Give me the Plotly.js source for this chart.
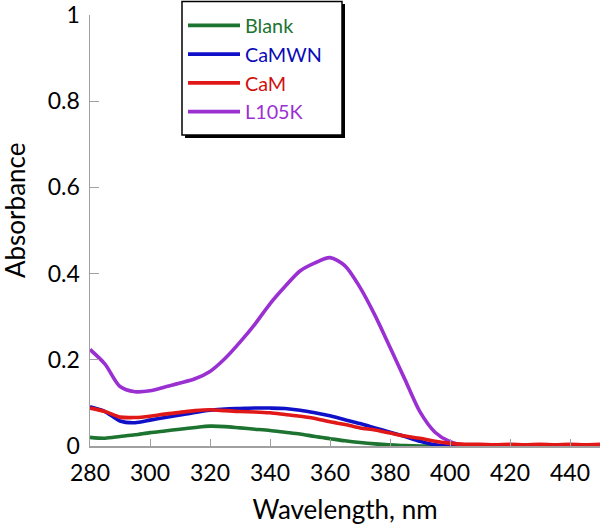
<!DOCTYPE html>
<html>
<head>
<meta charset="utf-8">
<script src="https://cdn.plot.ly/plotly-3.0.1.min.js"></script>
<style>html,body{margin:0;padding:0;background:#fff;}#chart{width:602px;height:525px;}</style>
</head>
<body>
<div id="chart"></div>
<script>
const wavelength = [280,285,290,295,300,305,310,315,320,325,330,335,340,345,350,355,360,365,370,375,380,385,390,395,400,405,410,415,420,425,430,435,440,445,450];
const blank = [0.020,0.018,0.022,0.026,0.031,0.035,0.039,0.043,0.046,0.045,0.042,0.039,0.036,0.032,0.028,0.022,0.017,0.012,0.008,0.005,0.003,0.001,0.000,0.000,0.000,0.000,0.000,0.000,0.000,0.000,0.000,0.000,0.000,0.000,0.000];
const camwn = [0.091,0.080,0.058,0.054,0.060,0.066,0.072,0.078,0.083,0.086,0.087,0.088,0.088,0.087,0.083,0.077,0.070,0.061,0.052,0.042,0.032,0.022,0.011,0.003,0.000,-0.001,-0.001,-0.001,-0.001,-0.001,-0.001,-0.001,-0.001,-0.001,-0.001];
const cam = [0.088,0.080,0.067,0.066,0.069,0.074,0.078,0.082,0.084,0.082,0.080,0.079,0.077,0.073,0.069,0.064,0.056,0.050,0.042,0.037,0.030,0.023,0.018,0.011,0.006,0.004,0.004,0.003,0.004,0.003,0.004,0.003,0.004,0.003,0.004];
const l105k = [0.224,0.190,0.138,0.126,0.128,0.137,0.146,0.156,0.173,0.203,0.241,0.283,0.330,0.370,0.406,0.425,0.437,0.418,0.368,0.303,0.229,0.154,0.079,0.032,0.010,0.002,0.001,0.001,0.001,0.001,0.001,0.001,0.001,0.001,0.001];
const seriesNames = ['Blank','CaMWN','CaM','L105K'];
const seriesColors = ['#1c7430','#1010c8','#e01818','#9b30d2'];
const textColors = ['#1c7430','#0a0ab8','#d01010','#9b30d2'];
const xTicks = [280,300,320,340,360,380,400,420,440];
const yTicks = [0,0.2,0.4,0.6,0.8,1];
const yTickText = ['0','0.2','0.4','0.6','0.8','1'];

const TOP = 15, BOTTOM = 446;
function px2paperX(px){return (px-90)/510;}
function px2paperY(py){return (BOTTOM-py)/(BOTTOM-TOP);}

const ys = [blank, camwn, cam, l105k];
const drawOrder = [0,1,3,2];
const traces = drawOrder.map(i => ({
  x: wavelength, y: ys[i], type:'scatter', mode:'lines',
  name: '<span style="color:'+textColors[i]+'">'+seriesNames[i]+'</span>',
  legendrank: i+1,
  line:{color:seriesColors[i], width:3.6, shape:'spline', smoothing:0.8}
}));

const layout = {
  width:602, height:525,
  margin:{l:90, r:2, t:TOP, b:525-BOTTOM},
  paper_bgcolor:'#fff', plot_bgcolor:'#fff',
  font:{family:'Lato, sans-serif', size:22, color:'#000'},
  showlegend:true,
  legend:{x:px2paperX(183), y:px2paperY(6), xanchor:'left', yanchor:'top',
    bgcolor:'rgba(0,0,0,0)', borderwidth:0,
    font:{family:'Lato, sans-serif', size:19.8}, traceorder:'normal',
    itemwidth:52},
  xaxis:{range:[280,450], tickvals:xTicks,
    ticks:'inside', ticklen:7, tickcolor:'#a0a0a0', tickwidth:1,
    showline:true, linecolor:'#a0a0a0', linewidth:1.5, showgrid:false, zeroline:false,
    ticklabelstandoff:6, ticklabeloverflow:'allow',
    tickfont:{family:'Lato, sans-serif', size:23},
    title:{text:'Wavelength, nm', font:{family:'Lato, sans-serif', size:26}, standoff:16}},
  yaxis:{range:[0,1], tickvals:yTicks, ticktext:yTickText,
    ticks:'inside', ticklen:9, tickcolor:'#a0a0a0', tickwidth:1,
    showline:true, linecolor:'#a0a0a0', linewidth:1.5, showgrid:false, zeroline:false,
    ticklabelstandoff:4, ticklabeloverflow:'allow',
    tickfont:{family:'Lato, sans-serif', size:23}},
  annotations:[{text:'Absorbance', xref:'paper', yref:'paper', x:px2paperX(15), y:px2paperY(211),
    showarrow:false, textangle:-90, font:{family:'Lato, sans-serif', size:26}, xanchor:'center', yanchor:'middle'}],
  shapes:[
    {type:'rect', xref:'paper', yref:'paper', x0:px2paperX(185), x1:px2paperX(345), y0:px2paperY(138), y1:px2paperY(4),
     fillcolor:'#000', line:{width:0}, layer:'above'},
    {type:'rect', xref:'paper', yref:'paper', x0:px2paperX(182), x1:px2paperX(342), y0:px2paperY(135), y1:px2paperY(1.5),
     fillcolor:'#fff', line:{width:1.5, color:'#000'}, layer:'above'}
  ]
};
Plotly.newPlot('chart', traces, layout, {displayModeBar:false, staticPlot:true});
</script>
</body>
</html>
